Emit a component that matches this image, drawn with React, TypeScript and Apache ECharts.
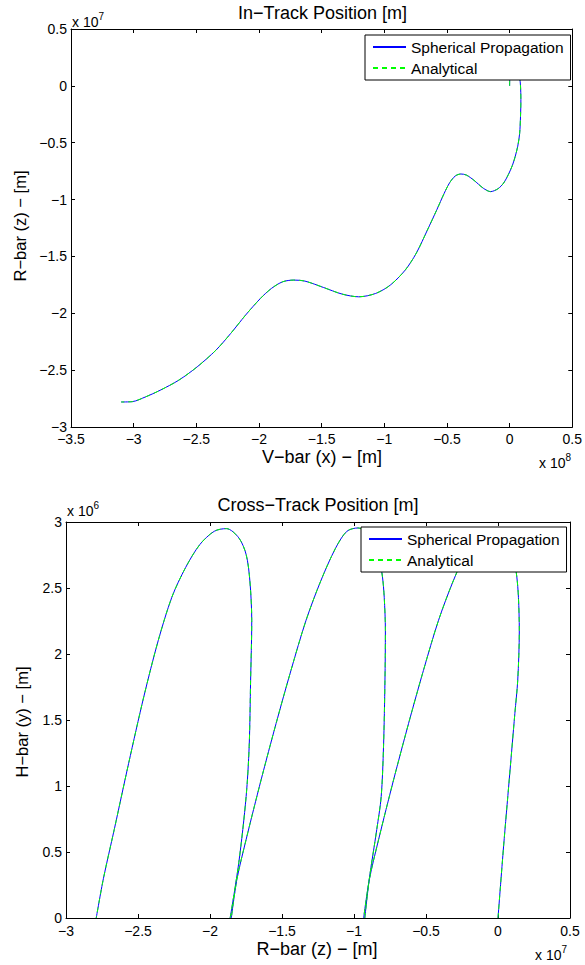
import React, { useEffect, useRef } from 'react';
import * as echarts from 'echarts';

const FONT = '"Liberation Sans", Arial, Helvetica, sans-serif';
const MINUS = '\u2212';

const seriesNames = ['Spherical Propagation', 'Analytical'];
const lineColors = ['#0000ff', '#00ff00'];

// In-track position: V-bar (x) in units of 1e8 m, R-bar (z) in units of 1e7 m
const inTrackV = [
  0, 0.002, 0.015, 0.04, 0.065, 0.08, 0.087, 0.09, 0.087, 0.08, 0.065, 0.045, 0.022,
  -0.01, -0.048, -0.093, -0.152, -0.21, -0.285, -0.344, -0.389, -0.433, -0.478, -0.522,
  -0.581, -0.656, -0.744, -0.833, -0.952, -1.07, -1.204, -1.337, -1.485, -1.633, -1.722,
  -1.811, -1.9, -1.989, -2.107, -2.226, -2.344, -2.493, -2.641, -2.789, -2.907, -3.011, -3.1,
];
const inTrackR = [
  0, 0.07, 0.12, 0.148, 0.125, 0.07, 0, -0.12, -0.27, -0.42, -0.53, -0.62, -0.7,
  -0.78, -0.855, -0.905, -0.93, -0.9, -0.83, -0.785, -0.775, -0.792, -0.851, -0.945,
  -1.09, -1.268, -1.47, -1.62, -1.752, -1.826, -1.855, -1.831, -1.773, -1.717, -1.708,
  -1.723, -1.781, -1.87, -2.016, -2.178, -2.325, -2.471, -2.589, -2.677, -2.736, -2.777, -2.78,
];

// Cross-track position: R-bar (z) in units of 1e7 m, H-bar (y) in units of 1e6 m
const arch1Z = [0, 0.039, 0.078, 0.117, 0.137, 0.148, 0.142, 0.13, 0.105, 0.06, -0.05, -0.129, -0.207, -0.311, -0.414, -0.518, -0.621, -0.725, -0.829, -0.893, -0.933];
const arch1Y = [0, 0.545, 1.047, 1.549, 1.8, 2.177, 2.428, 2.59, 2.75, 2.88, 2.95, 2.93, 2.804, 2.553, 2.252, 1.875, 1.474, 1.047, 0.595, 0.294, 0];
const arch2Z = [-0.925, -0.894, -0.842, -0.811, -0.795, -0.785, -0.782, -0.79, -0.803, -0.83, -0.88, -0.972, -1.049, -1.127, -1.231, -1.334, -1.438, -1.541, -1.645, -1.749, -1.813, -1.852];
const arch2Y = [0, 0.294, 0.67, 0.921, 1.298, 1.8, 2.177, 2.428, 2.59, 2.75, 2.88, 2.955, 2.93, 2.804, 2.553, 2.252, 1.875, 1.474, 1.047, 0.595, 0.294, 0];
const arch3Z = [-1.86, -1.8, -1.749, -1.728, -1.718, -1.71, -1.723, -1.749, -1.8, -1.886, -1.97, -2.07, -2.17, -2.265, -2.36, -2.46, -2.565, -2.665, -2.74, -2.79];
const arch3Y = [0, 0.419, 0.921, 1.298, 1.8, 2.252, 2.553, 2.754, 2.88, 2.95, 2.93, 2.83, 2.654, 2.43, 2.1, 1.675, 1.172, 0.67, 0.3, 0];

const zip = (a: number[], b: number[]) => a.map((v, i) => [v, b[i]]);
const GAP: (number | null)[] = [null, null];

const inTrackData = zip(inTrackV, inTrackR);
const crossTrackData = [
  ...zip(arch1Z, arch1Y), GAP,
  ...zip(arch2Z, arch2Y), GAP,
  ...zip(arch3Z, arch3Y),
];

const fmt = (v: number) => {
  const r = Math.round(v * 100) / 100;
  return r < 0 ? MINUS + String(-r) : String(r);
};

const axisLineStyle = { color: '#000', width: 1 };

function makeX(gridIndex: number, min: number, max: number, margin: number) {
  const base = {
    type: 'value', gridIndex, min, max, interval: 0.5,
    axisLine: { show: true, onZero: false, lineStyle: axisLineStyle },
    axisTick: { show: true, inside: true, length: 4, lineStyle: axisLineStyle },
    splitLine: { show: false },
  };
  return [
    { ...base, position: 'bottom', axisLabel: { show: true, fontSize: 14, fontFamily: FONT, color: '#000', margin, formatter: fmt, showMinLabel: true, showMaxLabel: true } },
    { ...base, position: 'top', axisLabel: { show: false } },
  ];
}
function makeY(gridIndex: number, min: number, max: number) {
  const base = {
    type: 'value', gridIndex, min, max, interval: 0.5,
    axisLine: { show: true, onZero: false, lineStyle: axisLineStyle },
    axisTick: { show: true, inside: true, length: 4, lineStyle: axisLineStyle },
    splitLine: { show: false },
  };
  return [
    { ...base, position: 'left', axisLabel: { show: true, fontSize: 14, fontFamily: FONT, color: '#000', margin: 4, formatter: fmt, showMinLabel: true, showMaxLabel: true } },
    { ...base, position: 'right', axisLabel: { show: false } },
  ];
}

function text(x: number, y: number, t: string, size: number, align = 'center', rotation = 0) {
  return {
    type: 'text', x, y, rotation, silent: true,
    style: {
      text: t, fontSize: size, fontFamily: FONT, fill: '#000',
      align, textAlign: align, verticalAlign: 'middle', textVerticalAlign: 'middle',
    },
  };
}

function multiplier(x: number, y: number, exp: string) {
  return [text(x, y, 'x 10', 14, 'left'), text(x + 26.5, y - 6, exp, 10, 'left')];
}

function makeSeries(data: any[], xi: number, yi: number) {
  return seriesNames.map((name, i) => ({
    type: 'line', name, xAxisIndex: xi, yAxisIndex: yi, data,
    symbol: 'none', smooth: 0.3, clip: true, connectNulls: false,
    itemStyle: { color: lineColors[i] },
    lineStyle: { color: lineColors[i], width: 1, type: i === 0 ? 'solid' : [5, 4] },
    z: 2 + i,
  }));
}

function makeLegend(left: number, top: number) {
  return {
    data: seriesNames, orient: 'vertical', left, top,
    padding: [4, 7, 4, 7], itemGap: 5, itemWidth: 33, itemHeight: 14,
    backgroundColor: '#fff', borderColor: '#000', borderWidth: 1,
    itemStyle: { opacity: 0, borderWidth: 0 },
    textStyle: { fontSize: 15.5, fontFamily: FONT, color: '#000', lineHeight: 16 },
    selectedMode: false,
  };
}

export default function App() {
  const ref = useRef<HTMLDivElement>(null);
  useEffect(() => {
    if (!ref.current) return;
    const chart = echarts.init(ref.current, null, { renderer: 'svg' });
    chart.setOption({
      animation: false,
      backgroundColor: '#fff',
      grid: [
        { left: 71, top: 29, width: 503, height: 398, containLabel: false },
        { left: 66, top: 522, width: 504, height: 396, containLabel: false },
      ],
      xAxis: [...makeX(0, -3.5, 0.5, 5), ...makeX(1, -3, 0.5, 6)],
      yAxis: [...makeY(0, -3, 0.5), ...makeY(1, 0, 3)],
      legend: [makeLegend(365, 35), makeLegend(361, 527)],
      series: [...makeSeries(inTrackData, 0, 0), ...makeSeries(crossTrackData, 2, 2)],
      graphic: [
        text(322.5, 13, 'In' + MINUS + 'Track Position [m]', 18),
        text(322, 457, 'V' + MINUS + 'bar (x) ' + MINUS + ' [m]', 18),
        text(20, 226, 'R' + MINUS + 'bar (z) ' + MINUS + ' [m]', 16.5, 'center', Math.PI / 2),
        ...multiplier(72, 22, '7'),
        ...multiplier(539, 463, '8'),
        text(318, 505, 'Cross' + MINUS + 'Track Position [m]', 18),
        text(317, 949, 'R' + MINUS + 'bar (z) ' + MINUS + ' [m]', 18),
        text(22, 722, 'H' + MINUS + 'bar (y) ' + MINUS + ' [m]', 16.5, 'center', Math.PI / 2),
        ...multiplier(67, 511, '6'),
        ...multiplier(535, 955, '7'),
      ],
    });
    return () => chart.dispose();
  }, []);
  return (
    <div
      ref={ref}
      style={{ position: 'fixed', left: 0, top: 0, width: 585, height: 965, background: '#fff' }}
    />
  );
}
